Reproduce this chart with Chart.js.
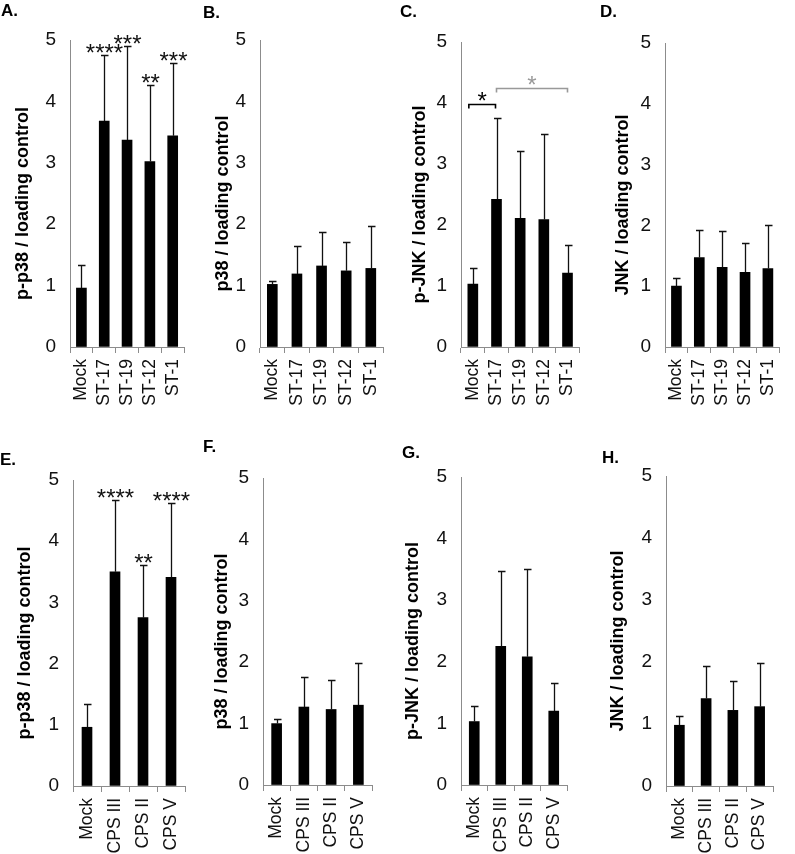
<!DOCTYPE html>
<html>
<head>
<meta charset="utf-8">
<script src="https://cdn.jsdelivr.net/npm/chart.js@4.4.0/dist/chart.umd.min.js"></script>
<style>
  html, body { margin: 0; padding: 0; background: #fff; }
  #wrap { position: relative; width: 795px; height: 854px; overflow: hidden; }
  #wrap canvas { position: absolute; }
</style>
</head>
<body>
<div id="wrap"></div>
<script>
// categories
const stCats = ['Mock', 'ST-17', 'ST-19', 'ST-12', 'ST-1'];
const cpsCats = ['Mock', 'CPS III', 'CPS II', 'CPS V'];
const yTicks = [0, 1, 2, 3, 4, 5];

// A. p-p38, serotypes
const pp38St = [0.96, 3.68, 3.37, 3.02, 3.44];
const pp38StSd = [0.37, 1.08, 1.54, 1.25, 1.18];
const pp38StSig = ['', '****', '***', '**', '***'];
// B. p38, serotypes
const p38St = [1.02, 1.19, 1.32, 1.24, 1.28];
const p38StSd = [0.06, 0.45, 0.55, 0.47, 0.69];
// C. p-JNK, serotypes
const pjnkSt = [1.03, 2.42, 2.11, 2.09, 1.21];
const pjnkStSd = [0.26, 1.34, 1.11, 1.41, 0.46];
const pjnkStBrackets = [
  { from: 0, to: 1, level: 3.98, label: '*', color: '#000' },
  { from: 1, to: 4, level: 4.24, label: '*', color: '#999' }
];
// D. JNK, serotypes
const jnkSt = [1.00, 1.47, 1.31, 1.23, 1.29];
const jnkStSd = [0.13, 0.46, 0.60, 0.48, 0.71];

// E. p-p38, capsule types
const pp38Cps = [0.96, 3.50, 2.75, 3.41];
const pp38CpsSd = [0.38, 1.17, 0.86, 1.21];
const pp38CpsSig = ['', '****', '**', '****'];
// F. p38, capsule types
const p38Cps = [1.00, 1.27, 1.23, 1.30];
const p38CpsSd = [0.08, 0.49, 0.48, 0.68];
// G. p-JNK, capsule types
const pjnkCps = [1.03, 2.25, 2.08, 1.20];
const pjnkCpsSd = [0.25, 1.23, 1.42, 0.45];
// H. JNK, capsule types
const jnkCps = [0.98, 1.41, 1.22, 1.28];
const jnkCpsSd = [0.15, 0.52, 0.47, 0.70];

const FONT = '"Liberation Sans", Arial, sans-serif';
const AXIS = '#8c8c8c';
const INK = '#111';

// panel layout (page pixels)
const panels = [
  { letter: 'A.', cats: stCats, vals: pp38St, sd: pp38StSd, sig: pp38StSig, title: 'p-p38 / loading control',
    box: [0, 0, 200, 420], axisX: 70, top: 40, bottom: 347, right: 197, titleX: 23, lx: 1, ly: 16 },
  { letter: 'B.', cats: stCats, vals: p38St, sd: p38StSd, title: 'p38 / loading control',
    box: [200, 0, 198, 420], axisX: 260, top: 40, bottom: 347, right: 396, titleX: 223, lx: 203, ly: 18 },
  { letter: 'C.', cats: stCats, vals: pjnkSt, sd: pjnkStSd, brackets: pjnkStBrackets, title: 'p-JNK / loading control',
    box: [398, 0, 197, 420], axisX: 461, top: 42, bottom: 347, right: 590, titleX: 420, lx: 400, ly: 17 },
  { letter: 'D.', cats: stCats, vals: jnkSt, sd: jnkStSd, title: 'JNK / loading control',
    box: [595, 0, 200, 420], axisX: 665, top: 43, bottom: 347, right: 794, titleX: 623, lx: 600, ly: 17 },
  { letter: 'E.', cats: cpsCats, vals: pp38Cps, sd: pp38CpsSd, sig: pp38CpsSig, title: 'p-p38 / loading control',
    box: [0, 420, 200, 434], axisX: 73, top: 480, bottom: 786, right: 185, titleX: 25, lx: 0, ly: 465 },
  { letter: 'F.', cats: cpsCats, vals: p38Cps, sd: p38CpsSd, title: 'p38 / loading control',
    box: [200, 420, 198, 434], axisX: 263, top: 478, bottom: 785, right: 372, titleX: 222, lx: 203, ly: 452 },
  { letter: 'G.', cats: cpsCats, vals: pjnkCps, sd: pjnkCpsSd, title: 'p-JNK / loading control',
    box: [398, 420, 197, 434], axisX: 461, top: 477, bottom: 785, right: 567, titleX: 413, lx: 402, ly: 458 },
  { letter: 'H.', cats: cpsCats, vals: jnkCps, sd: jnkCpsSd, title: 'JNK / loading control',
    box: [595, 420, 200, 434], axisX: 666, top: 476, bottom: 786, right: 773, titleX: 618, lx: 602, ly: 463 }
];

// draw text so that the bottom of its ink sits at yBottom
function starText(ctx, txt, x, yBottom) {
  const m = ctx.measureText(txt);
  ctx.fillText(txt, x, yBottom - m.actualBoundingBoxDescent);
}

// error bars, stars, brackets, panel letter and y title
const extras = {
  id: 'extras',
  afterDatasetsDraw(chart, args, o) {
    const ctx = chart.ctx;
    const x = chart.scales.x, y = chart.scales.y;
    const vals = chart.data.datasets[0].data;
    ctx.save();
    ctx.strokeStyle = INK;
    ctx.lineWidth = 1.3;
    ctx.fillStyle = INK;
    ctx.font = '24px ' + FONT;
    ctx.textAlign = 'center';
    ctx.textBaseline = 'alphabetic';
    vals.forEach((v, i) => {
      const px = Math.round(x.getPixelForValue(i)) + 0.5;
      const y0 = y.getPixelForValue(v);
      const y1 = Math.round(y.getPixelForValue(v + o.sd[i])) + 0.5;
      ctx.beginPath();
      ctx.moveTo(px, y0);
      ctx.lineTo(px, y1);
      ctx.moveTo(px - 3.5, y1);
      ctx.lineTo(px + 4, y1);
      ctx.stroke();
      if (o.sig && o.sig[i]) {
        starText(ctx, o.sig[i], px, y1 - 3);
      }
    });
    (o.brackets || []).forEach(b => {
      const xl = x.getPixelForValue(b.from) - (b.from === 0 ? 4 : 0);
      const xr = x.getPixelForValue(b.to) - (b.to === 1 ? 1 : 0);
      const yb = Math.round(y.getPixelForValue(b.level)) + 0.5;
      ctx.strokeStyle = b.color;
      ctx.fillStyle = b.color;
      ctx.lineWidth = 1.6;
      ctx.beginPath();
      ctx.moveTo(xl, yb + 4);
      ctx.lineTo(xl, yb);
      ctx.lineTo(xr, yb);
      ctx.lineTo(xr, yb + 4);
      ctx.stroke();
      starText(ctx, b.label, (xl + xr) / 2, yb - 4);
    });
    ctx.restore();
  },
  afterDraw(chart, args, o) {
    const ctx = chart.ctx;
    const a = chart.chartArea;
    ctx.save();
    ctx.fillStyle = '#000';
    ctx.font = 'bold 17px ' + FONT;
    ctx.textAlign = 'left';
    ctx.textBaseline = 'alphabetic';
    ctx.fillText(o.letter, o.lx, o.ly);
    ctx.translate(o.titleX, (a.top + a.bottom) / 2 + 10);
    ctx.rotate(-Math.PI / 2);
    ctx.font = 'bold 18px ' + FONT;
    ctx.textAlign = 'center';
    ctx.textBaseline = 'middle';
    ctx.fillText(o.title, 0, 0);
    ctx.restore();
  }
};

const wrap = document.getElementById('wrap');
panels.forEach(p => {
  const [bl, bt, bw, bh] = p.box;
  const cv = document.createElement('canvas');
  cv.width = bw;
  cv.height = bh;
  cv.style.left = bl + 'px';
  cv.style.top = bt + 'px';
  wrap.appendChild(cv);

  new Chart(cv.getContext('2d'), {
    type: 'bar',
    data: {
      labels: p.cats,
      datasets: [{
        data: p.vals,
        backgroundColor: '#000',
        borderWidth: 0,
        barThickness: 10
      }]
    },
    options: {
      responsive: false,
      animation: false,
      devicePixelRatio: 1,
      layout: {
        padding: { left: 0, top: p.top - bt, right: bl + bw - p.right, bottom: 0 }
      },
      plugins: {
        legend: { display: false },
        tooltip: { enabled: false },
        extras: {
          sd: p.sd, sig: p.sig, brackets: p.brackets, title: p.title, letter: p.letter,
          lx: p.lx - bl, ly: p.ly - bt, titleX: p.titleX - bl
        }
      },
      scales: {
        x: {
          offset: true,
          grid: { display: true, drawOnChartArea: false, offset: true, tickLength: 6, color: AXIS },
          border: { display: true, color: AXIS, width: 1 },
          ticks: { font: { family: FONT, size: 17.5 }, color: INK, minRotation: 90, maxRotation: 90, padding: 6, autoSkip: false },
          afterFit: s => { s.height = bt + bh - p.bottom; }
        },
        y: {
          min: 0,
          max: 5,
          grid: { display: true, drawOnChartArea: false, drawTicks: false },
          border: { display: true, color: AXIS, width: 1 },
          ticks: { font: { family: FONT, size: 19 }, color: INK, padding: 14 },
          afterBuildTicks: s => { s.ticks = yTicks.map(v => ({ value: v })); },
          afterFit: s => { s.width = p.axisX - bl; }
        }
      }
    },
    plugins: [extras]
  });
});
</script>
</body>
</html>
